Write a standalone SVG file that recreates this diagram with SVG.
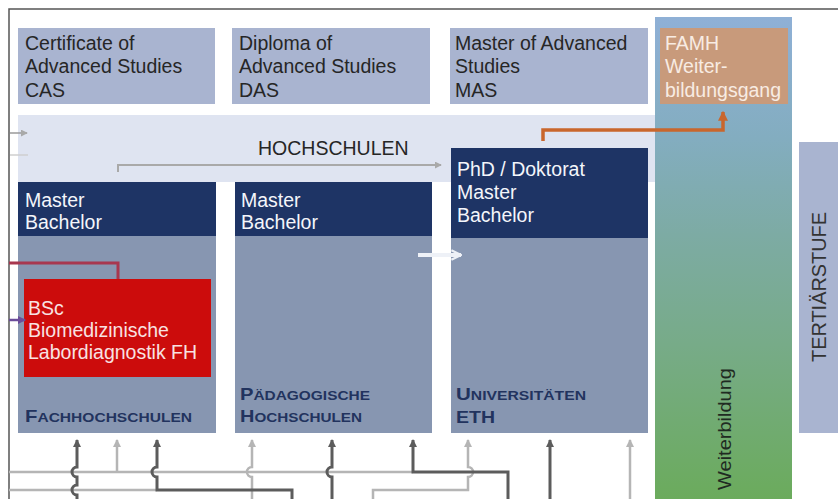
<svg xmlns="http://www.w3.org/2000/svg" width="838" height="499" viewBox="0 0 838 499">
<defs>
<linearGradient id="wbGrad" x1="0" y1="17" x2="0" y2="499" gradientUnits="userSpaceOnUse">
<stop offset="0" stop-color="#8fb0d6"/>
<stop offset="0.25" stop-color="#83adc0"/>
<stop offset="0.45" stop-color="#7daba4"/>
<stop offset="0.68" stop-color="#77ab88"/>
<stop offset="1" stop-color="#6bab5c"/>
</linearGradient>
<marker id="arrDark" viewBox="0 0 8 8" refX="7" refY="4" markerWidth="8" markerHeight="8" markerUnits="userSpaceOnUse" orient="auto"><path d="M0,0 L8,4 L0,8 z" fill="#5c5c5c"/></marker>
<marker id="arrLight" viewBox="0 0 8 8" refX="7" refY="4" markerWidth="8" markerHeight="8" markerUnits="userSpaceOnUse" orient="auto"><path d="M0,0 L8,4 L0,8 z" fill="#b5b5b5"/></marker>
<marker id="arrGray" viewBox="0 0 8 8" refX="7" refY="4" markerWidth="7" markerHeight="7" markerUnits="userSpaceOnUse" orient="auto"><path d="M0,0 L8,4 L0,8 z" fill="#a9a9a9"/></marker>
<marker id="arrOrange" viewBox="0 0 8 8" refX="7" refY="4" markerWidth="10" markerHeight="10" markerUnits="userSpaceOnUse" orient="auto"><path d="M0,0 L8,4 L0,8 z" fill="#c9662c"/></marker>
<marker id="arrPurple" viewBox="0 0 8 8" refX="7" refY="4" markerWidth="8" markerHeight="8" markerUnits="userSpaceOnUse" orient="auto"><path d="M0,0 L8,4 L0,8 z" fill="#6b4c9a"/></marker>
<marker id="arrWhite" viewBox="0 0 10 10" refX="9" refY="5" markerWidth="12" markerHeight="12" markerUnits="userSpaceOnUse" orient="auto"><path d="M1,1 L9,5 L1,9" fill="none" stroke="#eef1f7" stroke-width="1.8"/></marker>
</defs>
<style>
text { font-family: "Liberation Sans", Arial, sans-serif; }
.t { font-size: 19.5px; fill: #262626; }
.w { font-size: 19.5px; fill: #f4f6fb; }
.lab { font-weight: bold; fill: #22335e; }
.top { fill: #a9b4d0; }
.hdr { fill: #1e3465; }
.body { fill: #8796b1; }
.dk { fill: none; stroke: #5c5c5c; stroke-width: 3; marker-end: url(#arrDark); }
.lt { fill: none; stroke: #b5b5b5; stroke-width: 2.5; }
.lta { fill: none; stroke: #b5b5b5; stroke-width: 2.5; marker-end: url(#arrLight); }
</style>
<rect width="838" height="499" fill="#ffffff"/>
<path d="M9,499 V9 H838" fill="none" stroke="#555" stroke-width="1.5"/>

<g id="weiterbildung">
<rect x="655" y="17" width="137" height="482" fill="url(#wbGrad)"/>
<text x="731" y="490" transform="rotate(-90 731 490)" font-size="18" fill="#1f2a22" textLength="122" lengthAdjust="spacingAndGlyphs">Weiterbildung</text>
</g>

<g id="hochschulen">
<rect x="18" y="115" width="637" height="67" fill="#dfe4f1"/>
<text class="t" x="258" y="155" fill="#333">HOCHSCHULEN</text>
</g>

<g id="cas">
<rect class="top" x="18" y="28" width="197" height="76"/>
<text class="t" x="25" y="50">Certificate of</text>
<text class="t" x="25" y="73">Advanced Studies</text>
<text class="t" x="25" y="97">CAS</text>
</g>
<g id="das">
<rect class="top" x="232" y="28" width="198" height="76"/>
<text class="t" x="239" y="50">Diploma of</text>
<text class="t" x="239" y="73">Advanced Studies</text>
<text class="t" x="239" y="97">DAS</text>
</g>
<g id="mas">
<rect class="top" x="450" y="28" width="198" height="76"/>
<text class="t" x="455" y="50">Master of Advanced</text>
<text class="t" x="455" y="73">Studies</text>
<text class="t" x="455" y="97">MAS</text>
</g>
<g id="famh">
<rect x="660" y="28" width="128" height="76" fill="#c89a7b"/>
<text class="t" x="665" y="50" style="fill:#f8ece3">FAMH</text>
<text class="t" x="665" y="73" style="fill:#f8ece3">Weiter-</text>
<text class="t" x="665" y="97" style="fill:#f8ece3">bildungsgang</text>
</g>

<g id="fachhochschulen">
<rect class="body" x="18" y="236" width="198" height="197"/>
<rect class="hdr" x="18" y="182" width="198" height="54"/>
<text class="w" x="25" y="207">Master</text>
<text class="w" x="25" y="229">Bachelor</text>
<text class="lab" x="25" y="422" textLength="167" lengthAdjust="spacingAndGlyphs"><tspan font-size="17">F</tspan><tspan font-size="13">ACHHOCHSCHULEN</tspan></text>
</g>

<g id="bsc">
<rect x="24" y="279" width="187" height="98" fill="#cc0c0c"/>
<text class="w" x="28" y="315" style="fill:#f8e2e2">BSc</text>
<text class="w" x="28" y="337" style="fill:#f8e2e2">Biomedizinische</text>
<text class="w" x="28" y="359" style="fill:#f8e2e2">Labordiagnostik FH</text>
</g>

<g id="paedagogische">
<rect class="body" x="235" y="236" width="197" height="197"/>
<rect class="hdr" x="235" y="182" width="197" height="54"/>
<text class="w" x="241" y="207">Master</text>
<text class="w" x="241" y="229">Bachelor</text>
<text class="lab" x="240" y="400" textLength="130" lengthAdjust="spacingAndGlyphs"><tspan font-size="17">P</tspan><tspan font-size="13">ÄDAGOGISCHE</tspan></text>
<text class="lab" x="240" y="422" textLength="122" lengthAdjust="spacingAndGlyphs"><tspan font-size="17">H</tspan><tspan font-size="13">OCHSCHULEN</tspan></text>
</g>

<g id="universitaeten">
<rect class="body" x="451" y="238" width="197" height="195"/>
<rect class="hdr" x="451" y="148" width="197" height="90"/>
<text class="w" x="457" y="176">PhD / Doktorat</text>
<text class="w" x="457" y="199">Master</text>
<text class="w" x="457" y="222">Bachelor</text>
<text class="lab" x="456" y="400" textLength="130" lengthAdjust="spacingAndGlyphs"><tspan font-size="17">U</tspan><tspan font-size="13">NIVERSITÄTEN</tspan></text>
<text class="lab" x="456" y="423" font-size="17" textLength="39" lengthAdjust="spacingAndGlyphs">ETH</text>
</g>

<g id="tertiaerstufe">
<rect x="799" y="142" width="39" height="291" fill="#a9b4d0"/>
<text x="826" y="362" transform="rotate(-90 826 362)" font-size="19.5" fill="#333" textLength="150" lengthAdjust="spacingAndGlyphs">TERTIÄRSTUFE</text>
</g>

<g id="connectors">
<path d="M10,133 H27" fill="none" stroke="#9a9a9a" stroke-width="1.5" marker-end="url(#arrGray)"/>
<path d="M10,155 H28" fill="none" stroke="#cfcfcf" stroke-width="1.5"/>
<path d="M118,172 V165 H441" fill="none" stroke="#a9a9a9" stroke-width="2" marker-end="url(#arrGray)"/>
<path d="M543,141 V130 H723 V112" fill="none" stroke="#c9662c" stroke-width="3.5" marker-end="url(#arrOrange)"/>
<path d="M9,263 H118 V279" fill="none" stroke="#a8374f" stroke-width="3"/>
<path d="M9,320 H25" fill="none" stroke="#6b4c9a" stroke-width="2.5" marker-end="url(#arrPurple)"/>
<path d="M418,255 H461" fill="none" stroke="#eef1f7" stroke-width="4" marker-end="url(#arrWhite)"/>

<path class="lt" d="M9,472 H413"/>
<path class="lt" d="M9,490 H157"/>
<path class="lta" d="M117,472 V440"/>
<path class="lta" d="M252,499 V477 A5,5 0 0 1 252,467 V440"/>
<path class="lta" d="M373,499 V490 H468 V477 A5,5 0 0 0 468,467 V440"/>
<path class="lta" d="M630,499 V440"/>

<path class="dk" d="M77,499 V495 A5,5 0 0 1 77,485 V477 A5,5 0 0 1 77,467 V440"/>
<path class="dk" d="M292,499 V490 H157 V477 A5,5 0 0 1 157,467 V440"/>
<path class="dk" d="M332,499 V477 A5,5 0 0 1 332,467 V440"/>
<path class="dk" d="M508,499 V472 H413 V440"/>
<path class="dk" d="M550,499 V440"/>
</g>
</svg>
